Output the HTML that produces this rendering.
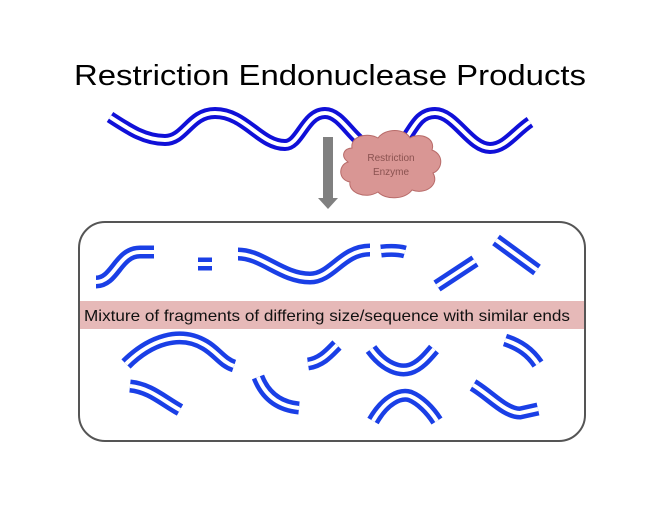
<!DOCTYPE html>
<html><head><style>body{margin:0;background:#fff}svg{display:block}</style></head>
<body>
<svg width="660" height="510" viewBox="0 0 660 510" xmlns="http://www.w3.org/2000/svg">
<defs>
<style>
.b{fill:none;stroke:#1a3fe6;stroke-width:13;stroke-linecap:butt}
.w{fill:none;stroke:#fff;stroke-width:4;stroke-linecap:butt}
.m{fill:none;stroke:#1010d8;stroke-width:12}
.mw{fill:none;stroke:#fff;stroke-width:4}
</style>
</defs>
<text x="330" y="85" text-anchor="middle" font-family="Liberation Sans, sans-serif" font-size="29" fill="#000" textLength="512" lengthAdjust="spacingAndGlyphs">Restriction Endonuclease Products</text>
<g>
<path class="m" d="M110 117 C130 130,145 140,165 140 C185 140,190 113,215 113 C245 113,260 145,285 145 C300 145,305 113,325 113 C340 113,350 135,365 145"/>
<path class="mw" d="M110 117 C130 130,145 140,165 140 C185 140,190 113,215 113 C245 113,260 145,285 145 C300 145,305 113,325 113 C340 113,350 135,365 145"/>
<path class="m" d="M405 140 C415 125,420 113,435 113 C455 113,470 148,490 148 C505 148,515 132,530 122"/>
<path class="mw" d="M405 140 C415 125,420 113,435 113 C455 113,470 148,490 148 C505 148,515 132,530 122"/>
</g>
<rect x="323" y="137" width="10" height="62" fill="#808080"/>
<polygon points="318,198 338,198 328,209" fill="#808080"/>
<path d="M352 148 C350 136,368 132,378 138 C385 128,405 128,410 138 C420 132,436 138,432 150 C445 155,442 170,433 173 C440 185,425 195,412 190 C405 200,385 200,378 192 C365 200,348 192,350 182 C338 180,338 165,348 162 C340 156,344 148,352 148 Z" fill="#d99694" stroke="#b86b69" stroke-width="1"/>
<text x="391" y="161" text-anchor="middle" font-family="Liberation Sans, sans-serif" font-size="10" fill="#8a5250">Restriction</text>
<text x="391" y="175" text-anchor="middle" font-family="Liberation Sans, sans-serif" font-size="10" fill="#8a5250">Enzyme</text>
<rect x="79" y="222" width="506" height="219" rx="26" fill="#fff" stroke="#555" stroke-width="2"/>
<rect x="80" y="301" width="504" height="28" fill="#e6b9b8"/>
<text x="84" y="321" font-family="Liberation Sans, sans-serif" font-size="16" fill="#111" textLength="486" lengthAdjust="spacingAndGlyphs">Mixture of fragments of differing size/sequence with similar ends</text>
<g>
<path class="b" d="M96 282 C115 282,118 252,140 252 L154 252"/>
<path class="w" d="M96 282 C115 282,118 252,140 252 L154 252"/>
<path class="b" d="M198 264 L212 264"/><path class="w" d="M198 264 L212 264"/>
<path class="b" d="M238 254 C262 254,282 278,310 278 C332 278,342 250,370 250"/>
<path class="w" d="M238 254 C262 254,282 278,310 278 C332 278,342 250,370 250"/>
<path class="b" d="M381 251 C390 250,398 250,405 252"/><path class="w" d="M381 251 C390 250,398 250,405 252"/>
<path class="b" d="M437 286 L475 261"/><path class="w" d="M437 286 L475 261"/>
<path class="b" d="M496 240 L537 270"/><path class="w" d="M496 240 L537 270"/>
<path class="b" d="M126 364 C150 340,180 330,205 345 C217 352,222 362,234 366"/>
<path class="w" d="M126 364 C150 340,180 330,205 345 C217 352,222 362,234 366"/>
<path class="b" d="M130 386 C150 388,162 400,180 410"/><path class="w" d="M130 386 C150 388,162 400,180 410"/>
<path class="b" d="M258 377 C265 395,278 406,299 408"/><path class="w" d="M258 377 C265 395,278 406,299 408"/>
<path class="b" d="M308 364 C322 362,330 352,337 345"/><path class="w" d="M308 364 C322 362,330 352,337 345"/>
<path class="b" d="M371 349 C385 368,400 372,410 369 C420 366,428 356,434 349"/>
<path class="w" d="M371 349 C385 368,400 372,410 369 C420 366,428 356,434 349"/>
<path class="b" d="M373 421 C385 400,400 393,410 396 C420 400,430 410,437 421"/>
<path class="w" d="M373 421 C385 400,400 393,410 396 C420 400,430 410,437 421"/>
<path class="b" d="M505 340 C520 345,530 352,538 364"/><path class="w" d="M505 340 C520 345,530 352,538 364"/>
<path class="b" d="M473 385 C490 395,505 413,520 413 L538 409"/><path class="w" d="M473 385 C490 395,505 413,520 413 L538 409"/>
</g>
</svg>
</body></html>
